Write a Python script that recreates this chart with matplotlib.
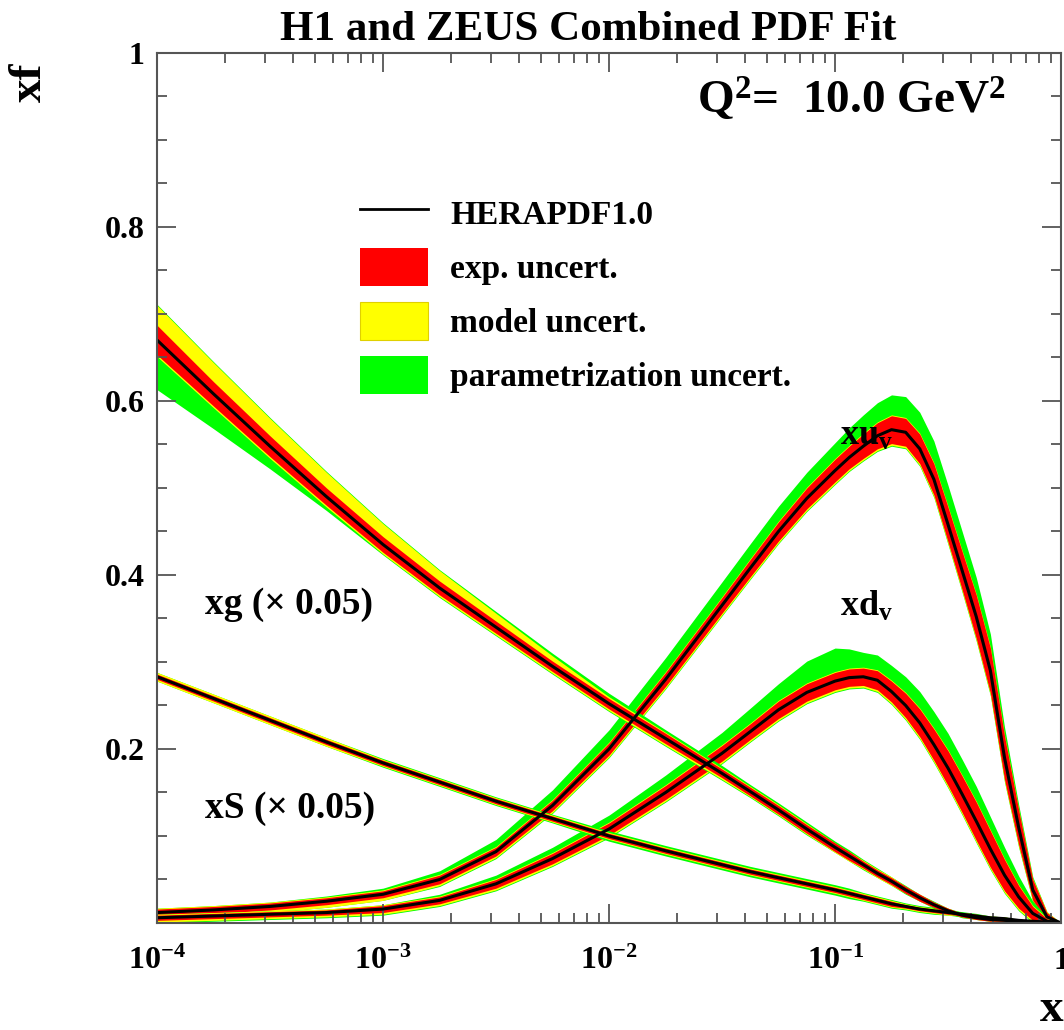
import numpy as np
import matplotlib
matplotlib.use("Agg")
import matplotlib.pyplot as plt
from matplotlib.lines import Line2D
from matplotlib.patches import Patch
from matplotlib.ticker import MultipleLocator, LogLocator, NullFormatter

plt.rcParams['font.family'] = 'Liberation Serif'
plt.rcParams['font.weight'] = 'bold'
plt.rcParams['mathtext.fontset'] = 'custom'
plt.rcParams['mathtext.rm'] = 'Liberation Serif:bold'
plt.rcParams['mathtext.it'] = 'Liberation Serif:bold'
plt.rcParams['mathtext.bf'] = 'Liberation Serif:bold'

RED = '#ff0000'
YELLOW = '#ffff00'
GREEN = '#00ff00'

## x grid: quarter decades at low x, finer towards x = 1
x = [1.0e-4, 1.78e-4, 3.16e-4, 5.62e-4, 1.0e-3, 1.78e-3, 3.16e-3, 5.62e-3,
     1.0e-2, 1.78e-2, 3.16e-2, 4.22e-2, 5.62e-2, 7.50e-2,
     0.100, 0.1155, 0.1334, 0.1540, 0.1778, 0.2054, 0.2371, 0.2738, 0.3162,
     0.3652, 0.4217, 0.4870, 0.5623, 0.6494, 0.7499, 0.8660, 1.0]

## xu_v : central value, exp. half width, exp+model up/down, total up/down
uv_c = [0.012, 0.015, 0.019, 0.025, 0.033, 0.050, 0.082, 0.135, 0.200, 0.280, 0.365, 0.408, 0.450, 0.488,
        0.520, 0.535, 0.548, 0.560, 0.567, 0.564, 0.545, 0.510, 0.458, 0.405, 0.352, 0.290, 0.190,
        0.110, 0.038, 0.007, 0.0]
uv_exp = [0.004, 0.004, 0.004, 0.004, 0.004, 0.005, 0.005, 0.006, 0.007, 0.008, 0.009, 0.010, 0.011, 0.012,
          0.013, 0.013, 0.014, 0.015, 0.016, 0.016, 0.017, 0.018, 0.020, 0.022, 0.025, 0.026, 0.025,
          0.020, 0.012, 0.005, 0.0]
uv_mod_up = [0.005, 0.005, 0.005, 0.005, 0.005, 0.006, 0.006, 0.007, 0.008, 0.009, 0.010, 0.011, 0.012, 0.013,
             0.014, 0.014, 0.015, 0.016, 0.017, 0.017, 0.018, 0.019, 0.021, 0.023, 0.026, 0.027, 0.026,
             0.021, 0.013, 0.006, 0.0]
uv_mod_dn = [0.007, 0.007, 0.007, 0.007, 0.007, 0.007, 0.007, 0.008, 0.009, 0.010, 0.011, 0.012, 0.013, 0.014,
             0.015, 0.015, 0.016, 0.017, 0.018, 0.018, 0.019, 0.020, 0.022, 0.024, 0.027, 0.028, 0.027,
             0.022, 0.013, 0.006, 0.0]
uv_tot_up = [0.005, 0.005, 0.005, 0.006, 0.007, 0.010, 0.014, 0.018, 0.022, 0.025, 0.027, 0.028, 0.029, 0.030,
             0.032, 0.034, 0.036, 0.038, 0.040, 0.041, 0.042, 0.044, 0.045, 0.045, 0.045, 0.042, 0.035,
             0.026, 0.015, 0.006, 0.0]
uv_tot_dn = [0.007, 0.007, 0.007, 0.007, 0.007, 0.008, 0.008, 0.009, 0.010, 0.011, 0.012, 0.013, 0.014, 0.015,
             0.016, 0.016, 0.017, 0.018, 0.019, 0.019, 0.020, 0.021, 0.023, 0.025, 0.028, 0.029, 0.028,
             0.023, 0.014, 0.007, 0.0]

## xd_v
dv_c = [0.006, 0.008, 0.010, 0.012, 0.016, 0.026, 0.045, 0.074, 0.108, 0.150, 0.195, 0.220, 0.245, 0.265,
        0.278, 0.282, 0.283, 0.279, 0.266, 0.250, 0.230, 0.205, 0.178, 0.148, 0.117, 0.085, 0.055,
        0.030, 0.011, 0.002, 0.0]
dv_exp = [0.003, 0.003, 0.003, 0.003, 0.004, 0.004, 0.005, 0.006, 0.007, 0.008, 0.009, 0.009, 0.010, 0.010,
          0.010, 0.010, 0.010, 0.011, 0.012, 0.014, 0.016, 0.018, 0.020, 0.021, 0.022, 0.021, 0.018,
          0.013, 0.008, 0.003, 0.0]
dv_mod_up = [0.004, 0.004, 0.004, 0.004, 0.005, 0.005, 0.006, 0.007, 0.008, 0.009, 0.010, 0.010, 0.011, 0.011,
             0.011, 0.011, 0.011, 0.012, 0.013, 0.015, 0.017, 0.019, 0.021, 0.022, 0.023, 0.022, 0.019,
             0.014, 0.009, 0.004, 0.0]
dv_mod_dn = [0.005, 0.005, 0.005, 0.005, 0.006, 0.006, 0.007, 0.008, 0.009, 0.010, 0.011, 0.011, 0.012, 0.012,
             0.012, 0.012, 0.012, 0.013, 0.014, 0.016, 0.018, 0.020, 0.022, 0.023, 0.024, 0.023, 0.020,
             0.015, 0.010, 0.005, 0.0]
dv_tot_up = [0.004, 0.004, 0.004, 0.004, 0.005, 0.007, 0.010, 0.013, 0.016, 0.020, 0.024, 0.027, 0.030, 0.036,
             0.038, 0.033, 0.028, 0.029, 0.030, 0.033, 0.036, 0.038, 0.040, 0.040, 0.040, 0.037, 0.032,
             0.024, 0.014, 0.005, 0.0]
dv_tot_dn = [0.006, 0.006, 0.006, 0.006, 0.007, 0.007, 0.008, 0.009, 0.010, 0.011, 0.012, 0.012, 0.013, 0.013,
             0.013, 0.013, 0.013, 0.014, 0.015, 0.017, 0.019, 0.021, 0.023, 0.024, 0.025, 0.024, 0.021,
             0.016, 0.011, 0.006, 0.0]

## xg (x 0.05)
g_c = [0.670, 0.608, 0.548, 0.490, 0.435, 0.385, 0.340, 0.295, 0.252, 0.212, 0.172, 0.151, 0.130, 0.108,
       0.087, 0.077, 0.067, 0.057, 0.048, 0.038, 0.029, 0.021, 0.014, 0.009, 0.006, 0.004, 0.003,
       0.002, 0.001, 0.0005, 0.0]
g_exp = [0.017, 0.014, 0.012, 0.010, 0.009, 0.008, 0.007, 0.006, 0.006, 0.006, 0.005, 0.005, 0.005, 0.005,
         0.005, 0.005, 0.004, 0.004, 0.004, 0.004, 0.004, 0.003, 0.003, 0.002, 0.002, 0.002, 0.001,
         0.001, 0.001, 0.0005, 0.0]
g_mod_up = [0.040, 0.036, 0.032, 0.028, 0.024, 0.020, 0.016, 0.012, 0.008, 0.007, 0.006, 0.006, 0.006, 0.006,
            0.005, 0.005, 0.005, 0.005, 0.005, 0.004, 0.004, 0.003, 0.003, 0.002, 0.002, 0.002, 0.001,
            0.001, 0.001, 0.0005, 0.0]
g_mod_dn = [0.019, 0.016, 0.014, 0.012, 0.011, 0.010, 0.009, 0.008, 0.008, 0.008, 0.007, 0.006, 0.006, 0.006,
            0.006, 0.006, 0.005, 0.005, 0.005, 0.004, 0.004, 0.003, 0.003, 0.002, 0.002, 0.002, 0.001,
            0.001, 0.001, 0.0005, 0.0]
g_tot_up = [0.041, 0.037, 0.033, 0.029, 0.025, 0.021, 0.018, 0.015, 0.012, 0.010, 0.009, 0.008, 0.008, 0.008,
            0.007, 0.007, 0.006, 0.006, 0.005, 0.005, 0.004, 0.004, 0.003, 0.003, 0.002, 0.002, 0.001,
            0.001, 0.001, 0.0005, 0.0]
g_tot_dn = [0.057, 0.040, 0.026, 0.016, 0.012, 0.011, 0.010, 0.009, 0.009, 0.009, 0.008, 0.007, 0.007, 0.007,
            0.006, 0.006, 0.006, 0.005, 0.005, 0.005, 0.004, 0.004, 0.003, 0.003, 0.002, 0.002, 0.001,
            0.001, 0.001, 0.0005, 0.0]

## xS (x 0.05), band symmetric
s_c = [0.283, 0.258, 0.233, 0.208, 0.184, 0.162, 0.140, 0.120, 0.100, 0.083, 0.067, 0.059, 0.052, 0.045,
       0.038, 0.034, 0.030, 0.026, 0.022, 0.019, 0.016, 0.014, 0.012, 0.010, 0.008, 0.006, 0.005,
       0.003, 0.002, 0.001, 0.0]
s_exp = [0.003, 0.003, 0.003, 0.003, 0.003, 0.003, 0.003, 0.003, 0.003, 0.003, 0.003, 0.003, 0.003, 0.003,
         0.003, 0.003, 0.003, 0.003, 0.003, 0.002, 0.002, 0.002, 0.002, 0.002, 0.002, 0.001, 0.001,
         0.001, 0.001, 0.0005, 0.0]
s_mod = [0.005, 0.005, 0.005, 0.005, 0.004, 0.004, 0.004, 0.004, 0.004, 0.004, 0.004, 0.004, 0.004, 0.004,
         0.004, 0.004, 0.004, 0.004, 0.004, 0.003, 0.003, 0.003, 0.003, 0.002, 0.002, 0.002, 0.002,
         0.001, 0.001, 0.0005, 0.0]
s_tot = [0.005, 0.005, 0.005, 0.005, 0.005, 0.005, 0.005, 0.005, 0.006, 0.006, 0.006, 0.006, 0.006, 0.006,
         0.006, 0.006, 0.005, 0.005, 0.005, 0.004, 0.004, 0.004, 0.003, 0.003, 0.003, 0.002, 0.002,
         0.001, 0.001, 0.0005, 0.0]

xtick_vals = [1e-4, 1e-3, 1e-2, 1e-1, 1.0]
xtick_labels = ['$10^{-4}$', '$10^{-3}$', '$10^{-2}$', '$10^{-1}$', '1']
ytick_vals = [0.2, 0.4, 0.6, 0.8, 1.0]
ytick_labels = ['0.2', '0.4', '0.6', '0.8', '1']


def draw_pdf(ax, c, err, mod_up, mod_dn, tot_up, tot_dn, lw=2.2):
    c = np.array(c)
    # total (green) -> exp+model (yellow) -> exp (red) -> central line
    ax.fill_between(x, c - np.array(tot_dn), c + np.array(tot_up), color=GREEN, lw=0)
    ax.fill_between(x, c - np.array(mod_dn), c + np.array(mod_up), color=YELLOW, lw=0)
    ax.fill_between(x, c - np.array(err), c + np.array(err), color=RED, lw=0)
    ax.plot(x, c, color='black', lw=lw)


fig = plt.figure(figsize=(10.64, 10.30), dpi=100)
ax = fig.add_axes([0.1476, 0.1039, 0.8496, 0.8447])
ax.set_xscale('log')

draw_pdf(ax, uv_c, uv_exp, uv_mod_up, uv_mod_dn, uv_tot_up, uv_tot_dn)
draw_pdf(ax, dv_c, dv_exp, dv_mod_up, dv_mod_dn, dv_tot_up, dv_tot_dn)
draw_pdf(ax, s_c, s_exp, s_mod, s_mod, s_tot, s_tot)
draw_pdf(ax, g_c, g_exp, g_mod_up, g_mod_dn, g_tot_up, g_tot_dn)

ax.set_xlim(1e-4, 1.0)
ax.set_ylim(0, 1.0)

ax.set_xticks(xtick_vals, labels=xtick_labels)
ax.xaxis.set_minor_locator(LogLocator(base=10, subs=np.arange(2, 10), numticks=20))
ax.xaxis.set_minor_formatter(NullFormatter())
ax.set_yticks(ytick_vals, labels=ytick_labels)
ax.yaxis.set_minor_locator(MultipleLocator(0.05))

ax.tick_params(which='both', direction='in', top=True, right=True, color='#555555',
               width=1.3, labelsize=23)
ax.tick_params(which='major', length=14)
ax.tick_params(which='minor', length=7)
ax.tick_params(axis='x', pad=17)
ax.tick_params(axis='y', pad=9)
for sp in ax.spines.values():
    sp.set_color('#555555')
    sp.set_linewidth(1.5)

# legend
handles = [Line2D([], [], color='black', lw=2),
           Patch(facecolor=RED, edgecolor='none'),
           Patch(facecolor=YELLOW, edgecolor='#e0d000', lw=0.8),
           Patch(facecolor=GREEN, edgecolor='none')]
labels = ['HERAPDF1.0', 'exp. uncert.', 'model uncert.', 'parametrization uncert.']
ax.legend(handles, labels, loc='upper left', bbox_to_anchor=(0.2246, 0.838),
          frameon=False, fontsize=24, handlelength=2.04, handleheight=1.38,
          labelspacing=0.48, handletextpad=0.66, borderpad=0, borderaxespad=0)

# curve labels
ax.text(0.597, 0.946, 'Q$^2$=  10.0 GeV$^2$', transform=ax.transAxes, fontsize=34,
        va='center', ha='left')
ax.text(0.053, 0.366, 'xg (\u00d7 0.05)', transform=ax.transAxes, fontsize=27,
        va='center', ha='left')
ax.text(0.053, 0.132, 'xS (\u00d7 0.05)', transform=ax.transAxes, fontsize=27,
        va='center', ha='left')
ax.text(0.756, 0.559, 'xu$_v$', transform=ax.transAxes, fontsize=26, va='center', ha='left')
ax.text(0.756, 0.363, 'xd$_v$', transform=ax.transAxes, fontsize=26, va='center', ha='left')

fig.text(588 / 1064, 1 - 30 / 1030, 'H1 and ZEUS Combined PDF Fit', fontsize=31,
         ha='center', va='center')
fig.text(0.028, 0.920, 'xf', fontsize=34, rotation=90, ha='center', va='center')
fig.text(1040 / 1064, 1 - 1010 / 1030, 'x', fontsize=34, ha='left', va='center')

fig.savefig('out.png', dpi=100)
